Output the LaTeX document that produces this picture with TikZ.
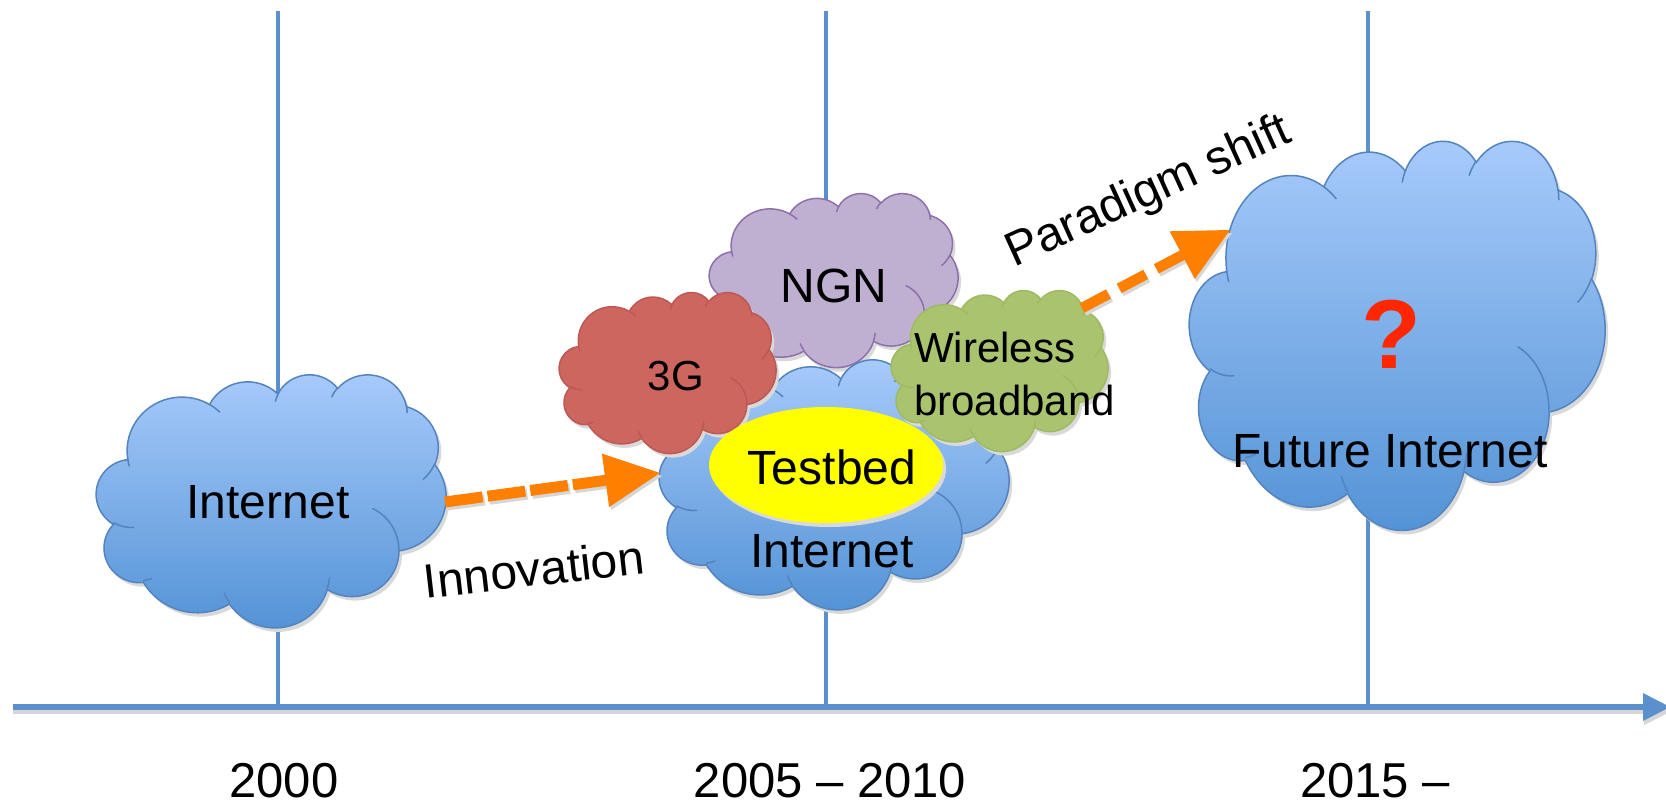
\documentclass[tikz,border=0pt]{standalone}
\usepackage{fontspec}
\setmainfont{Liberation Sans}
\usetikzlibrary{calc}

\definecolor{axisblue}{RGB}{90,145,205}
\definecolor{cloudtop}{RGB}{168,203,251}
\definecolor{cloudbot}{RGB}{82,146,213}
\definecolor{cloudedge}{RGB}{84,132,192}
\definecolor{ngnfill}{RGB}{191,176,210}
\definecolor{ngnedge}{RGB}{142,112,172}
\definecolor{gfill}{RGB}{205,102,94}
\definecolor{gedge}{RGB}{190,88,82}
\definecolor{wfill}{RGB}{170,195,110}
\definecolor{wedge}{RGB}{160,186,100}
\definecolor{arroworange}{RGB}{255,128,0}
\definecolor{qred}{RGB}{255,38,0}
\definecolor{testyellow}{RGB}{255,255,0}

% elliptical arc given by its visual start angle and sweep (cloud geometry, units of 1/1000 box)
\newcommand\cldarc[4]{arc[x radius=#1, y radius=#2, start angle={pa(#3,#1,#2)}, delta angle={#4+pd(#3+#4,#1,#2)-pd(#3,#1,#2)}]}

% outline of a cloud inside a 43.2 x 43.2 box
\newcommand\cldoutline{(3.900,14.370)
  \cldarc{6.753}{9.190}{-190.487}{123.781}
  \cldarc{5.333}{7.267}{-144.102}{89.945}
  \cldarc{4.365}{5.945}{-145.808}{99.723}
  \cldarc{4.857}{6.595}{-130.986}{117.242}
  \cldarc{5.333}{7.273}{-78.709}{109.027}
  \cldarc{6.775}{9.220}{-46.267}{130.269}
  \cldarc{5.785}{7.867}{0.625}{114.033}
  \cldarc{6.752}{9.215}{22.452}{115.173}
  \cldarc{7.720}{10.543}{66.243}{74.894}
  \cldarc{4.360}{5.918}{-274.942}{146.736}
  \cldarc{4.345}{5.945}{-246.829}{152.519}
  -- cycle}

% inner crease lines of the cloud
\newcommand\cldcreases{
  (4.693,26.177) \cldarc{4.345}{5.945}{86.742}{26.430}
  (6.928,34.899) \cldarc{4.360}{5.918}{73.610}{11.447}
  (16.478,39.090) \cldarc{6.752}{9.215}{137.624}{14.081}
  (28.827,34.751) \cldarc{6.752}{9.215}{6.453}{15.998}
  (34.129,22.954) \cldarc{5.785}{7.867}{-70.292}{70.917}
  (41.798,15.354) \cldarc{5.333}{7.273}{30.318}{27.752}
  (38.324,5.426) \cldarc{4.857}{6.595}{-13.744}{14.859}
  (29.078,3.952) \cldarc{4.857}{6.595}{-149.181}{18.195}
  (22.141,4.720) \cldarc{4.365}{5.945}{-163.494}{17.686}
  (14.000,5.192) \cldarc{6.753}{9.190}{-66.707}{12.319}
  (4.127,15.789) \cldarc{6.753}{9.190}{157.654}{11.858}}

% cloud with shadow: left, top, width, height, fill options, edge colour
\newcommand\drawcloud[6]{%
  \begin{scope}[x={({#3/43.2*1pt},0pt)},y={(0pt,{-#4/43.2*1pt})},shift={({(#1+3)*1pt},{-(#2+4)*1pt})}]
    \fill[black!15] \cldoutline;
  \end{scope}
  \begin{scope}[x={({#3/43.2*1pt},0pt)},y={(0pt,{-#4/43.2*1pt})},shift={({#1*1pt},{-#2*1pt})}]
    \path[#5, draw=#6, line width=1.5pt] \cldoutline;
    \draw[#6, line width=1.5pt] \cldcreases;
  \end{scope}}

\begin{document}
\begin{tikzpicture}[x=1pt,y=-1pt,
  declare function={
    pa(\a,\rx,\ry)=atan2((\rx)*sin(\a),(\ry)*cos(\a));
    pd(\a,\rx,\ry)=mod(pa(\a,\rx,\ry)-(\a)+540,360)-180;
  },
  lbl/.style={inner sep=0pt, font=\fontsize{48}{56}\selectfont},
  yearlbl/.style={inner sep=0pt, font=\fontsize{49}{56}\selectfont, anchor=base},
  tick/.style={draw=axisblue, line width=4pt},
  bluecloud/.style={top color=cloudtop, bottom color=cloudbot},
  orangeline/.style={draw=arroworange, line width=11pt},
  shadowline/.style={draw=black!16, line width=11pt}]

\fill[white] (0,0) rectangle (1666,803);
\useasboundingbox (0,0) rectangle (1666,803);

% timeline ticks
\draw[tick] (278,11) -- (278,707);
\draw[tick] (826,11) -- (826,707);
\draw[tick] (1368,11) -- (1368,707);

% time axis
\draw[black!16, line width=4pt] (13,712) -- (1645,712);
\fill[black!16] (1644,698) -- (1670,712) -- (1644,725) -- cycle;
\draw[axisblue, line width=5.5pt] (13,707) -- (1645,707);
\fill[axisblue] (1643,693) -- (1670,707) -- (1643,721) -- cycle;

% clouds
\drawcloud{96}{374}{350}{253}{bluecloud}{cloudedge}
\drawcloud{709}{193}{249}{174}{fill=ngnfill}{ngnedge}
\drawcloud{659}{359}{350}{250}{bluecloud}{cloudedge}
\drawcloud{559}{292}{217}{161}{fill=gfill}{gedge}
\drawcloud{891}{290}{217}{161}{fill=wfill}{wedge}
\drawcloud{1189}{140}{416}{389}{bluecloud}{cloudedge}

% testbed ellipse
\fill[black!15] (829,469) ellipse [x radius=117, y radius=58];
\fill[testyellow] (826,465) ellipse [x radius=117, y radius=58];

% arrows
\coordinate (innovA) at (445,502);
\coordinate (innovB) at (660,473);
\coordinate (shiftA) at (1082,308);
\coordinate (shiftB) at (1230,230);
\coordinate (innovH) at ($(innovB)!55pt!(innovA)$);
\coordinate (shiftH) at ($(shiftB)!54pt!(shiftA)$);

\begin{scope}[transform canvas={shift={(2pt,-3pt)}}]
  \draw[shadowline, dash pattern=on 38pt off 5pt] (innovA) -- ($(innovH)!3pt!(innovB)$);
  \fill[black!16] (innovB) -- ($(innovH)!27pt!90:(innovB)$) -- ($(innovH)!27pt!-90:(innovB)$) -- cycle;
  \draw[shadowline, line width=10.5pt, dash pattern=on 30pt off 12pt] (shiftA) -- ($(shiftH)!3pt!(shiftB)$);
  \fill[black!16] (shiftB) -- ($(shiftH)!27pt!90:(shiftB)$) -- ($(shiftH)!27pt!-90:(shiftB)$) -- cycle;
\end{scope}
\draw[orangeline, dash pattern=on 38pt off 5pt] (innovA) -- ($(innovH)!3pt!(innovB)$);
\fill[arroworange] (innovB) -- ($(innovH)!27pt!90:(innovB)$) -- ($(innovH)!27pt!-90:(innovB)$) -- cycle;
\draw[orangeline, line width=10.5pt, dash pattern=on 30pt off 12pt] (shiftA) -- ($(shiftH)!3pt!(shiftB)$);
\fill[arroworange] (shiftB) -- ($(shiftH)!27pt!90:(shiftB)$) -- ($(shiftH)!27pt!-90:(shiftB)$) -- cycle;

% labels
\node[lbl, anchor=base] (inetold) at (268,518) {Internet};
\node[lbl, anchor=base, rotate=6.5] (innov) at (536,586) {Innovation};
\node[lbl, anchor=base] (ngn) at (834,302) {NGN};
\node[lbl, anchor=base, font=\fontsize{42}{50}\selectfont] (threeg) at (676,390) {3G};
\node[lbl, anchor=base west, font=\fontsize{42}{50}\selectfont] (wless) at (914,362) {Wireless};
\node[lbl, anchor=base west, font=\fontsize{42}{50}\selectfont] (bband) at (914,415) {broadband};
\node[lbl, anchor=base] (testbed) at (832,484) {Testbed};
\node[lbl, anchor=base] (inetnow) at (832,567) {Internet};
\node[lbl, anchor=base, rotate=24.4] (shift) at (1154,204) {Paradigm shift};
\node[inner sep=0pt, anchor=base, text=qred, font=\fontsize{98}{110}\selectfont\bfseries] (quest) at (1391,368) {?};
\node[lbl, anchor=base] (future) at (1390,467) {Future Internet};

% years
\node[yearlbl] (y2000) at (284,797) {2000};
\node[yearlbl] (y2005) at (830,797) {2005 \textendash{} 2010};
\node[yearlbl] (y2015) at (1375,797) {2015 \textendash};
\end{tikzpicture}
\end{document}
